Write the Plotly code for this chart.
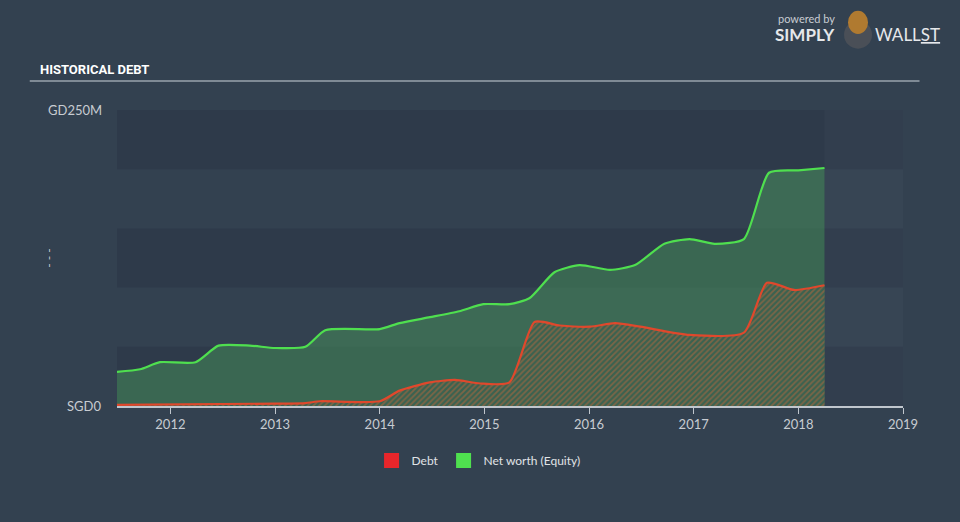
import plotly.graph_objects as go

# Data (dates as decimal years, values in SGD millions)
equity_dates = [2011.49, 2011.71, 2011.90, 2012.24, 2012.46, 2012.76, 2013.00, 2013.29, 2013.48, 2014.00,
                2014.19, 2014.48, 2014.76, 2014.99, 2015.24, 2015.43, 2015.67, 2015.91, 2016.20, 2016.44,
                2016.72, 2016.96, 2017.20, 2017.48, 2017.72, 2018.00, 2018.25]
equity_vals = [28.8, 31, 37, 37, 51, 51, 49, 50, 64, 65,
               70, 75, 80, 86, 86, 91, 113, 119, 115, 119,
               137, 141, 137, 141, 197, 199, 201]

debt_dates = [2011.49, 2013.00, 2013.29, 2013.43, 2014.00, 2014.19, 2014.48, 2014.72, 2014.96, 2015.24,
              2015.48, 2015.72, 2016.01, 2016.25, 2016.49, 2016.96, 2017.48, 2017.70, 2017.96, 2018.25]
debt_vals = [1, 2, 2.5, 4, 4, 13, 20, 22, 19, 20,
             71, 68, 67, 70, 67, 60, 62, 104, 98, 102]

year_ticks = [2012, 2013, 2014, 2015, 2016, 2017, 2018, 2019]

BG = "#334150"
BAND = "#2e3a4a"

fig = go.Figure()

fig.add_trace(go.Scatter(
    x=equity_dates, y=equity_vals, mode="lines",
    line=dict(color="#4fdf4f", width=2.2, shape="spline", smoothing=0.6),
    fill="tozeroy", fillcolor="rgba(70,140,90,0.55)",
    showlegend=False, hoverinfo="skip"))

fig.add_trace(go.Scatter(
    x=debt_dates, y=debt_vals, mode="lines",
    line=dict(color="#e0482c", width=2.2, shape="spline", smoothing=0.6),
    fill="tozeroy", fillcolor="rgba(0,0,0,0)",
    fillpattern=dict(shape="/", fgcolor="#c0683c", bgcolor="rgba(58,98,80,1)", size=4, solidity=0.45),
    showlegend=False, hoverinfo="skip"))

# legend entries
fig.add_trace(go.Scatter(x=[None], y=[None], mode="markers", name="Debt",
                         marker=dict(symbol="square", size=15, color="#e8262b")))
fig.add_trace(go.Scatter(x=[None], y=[None], mode="markers", name="Net worth (Equity)",
                         marker=dict(symbol="square", size=15, color="#4fe04f")))

shapes = []
# alternating bands
for y0, y1 in [(200, 250), (100, 150), (0, 50)]:
    shapes.append(dict(type="rect", xref="x", yref="y", x0=2011.49, x1=2019.0, y0=y0, y1=y1,
                       fillcolor=BAND, line=dict(width=0), layer="below"))
# future region
shapes.append(dict(type="rect", xref="x", yref="y", x0=max(equity_dates), x1=2019.0, y0=0, y1=250,
                   fillcolor="rgba(255,255,255,0.025)", line=dict(width=0), layer="below"))
# title underline
shapes.append(dict(type="line", xref="paper", yref="paper", x0=-0.111, x1=1.021, y0=1.098, y1=1.098,
                   line=dict(color="#9aa3ad", width=1.5)))

# bull logo approximation
shapes.append(dict(type="circle", xref="paper", yref="paper", x0=0.925, x1=0.9606, y0=1.207, y1=1.302,
                   fillcolor="#4a4f57", line=dict(width=0)))
shapes.append(dict(type="circle", xref="paper", yref="paper", x0=0.930, x1=0.9555, y0=1.257, y1=1.335,
                   fillcolor="#b07a30", line=dict(width=0)))

annotations = [
    dict(text="<b>HISTORICAL DEBT</b>", xref="paper", yref="paper", x=-0.1005, y=1.105,
         xanchor="left", yanchor="bottom", showarrow=False,
         font=dict(family="Roboto", size=13, color="#ffffff")),
    dict(text="GD250M", xref="paper", yref="y", x=-0.016, y=250, xanchor="right", yanchor="middle",
         showarrow=False, font=dict(family="Lato", size=13, color="#c8ccd2")),
    dict(text="SGD0", xref="paper", yref="y", x=-0.018, y=0, xanchor="right", yanchor="middle",
         showarrow=False, font=dict(family="Lato", size=13, color="#c8ccd2")),
    dict(text="- - -", xref="paper", yref="paper", x=-0.088, y=0.50, textangle=-90,
         xanchor="center", yanchor="middle",
         showarrow=False, font=dict(family="Lato", size=12, color="#c8ccd2")),
    dict(text="powered by", xref="paper", yref="paper", x=0.838, y=1.31, xanchor="left",
         yanchor="middle", showarrow=False, font=dict(family="Lato", size=11, color="#c8ccd2")),
    dict(text="<b>SIMPLY</b>", xref="paper", yref="paper", x=0.835, y=1.255, xanchor="left",
         yanchor="middle", showarrow=False, font=dict(family="Lato", size=17, color="#e6e8eb")),
    dict(text="WALL<u>ST</u>", xref="paper", yref="paper", x=0.962, y=1.255, xanchor="left",
         yanchor="middle", showarrow=False, font=dict(family="Lato", size=17, color="#e6e8eb")),
]

fig.update_layout(
    width=960, height=522,
    paper_bgcolor=BG, plot_bgcolor=BG,
    margin=dict(l=117, r=57, t=110, b=116),
    shapes=shapes, annotations=annotations,
    font=dict(family="Lato", color="#c8ccd2", size=13),
    legend=dict(orientation="h", x=0.46, xanchor="center", y=-0.135, yanchor="top",
                font=dict(family="Lato", size=12, color="#e0e3e7"), bgcolor="rgba(0,0,0,0)",
                itemwidth=30),
    xaxis=dict(range=[2011.49, 2019.0], tickvals=year_ticks, ticktext=[str(y) for y in year_ticks],
               showgrid=False, zeroline=False, showline=True, linecolor="#c0c6cd", linewidth=1.5,
               ticks="outside", ticklen=6, tickcolor="#c0c6cd", tickwidth=1,
               tickfont=dict(family="Lato", size=13, color="#c8ccd2"), fixedrange=True),
    yaxis=dict(range=[0, 250], showgrid=False, zeroline=False, showticklabels=False,
               fixedrange=True),
)

fig.write_html("out.html")
